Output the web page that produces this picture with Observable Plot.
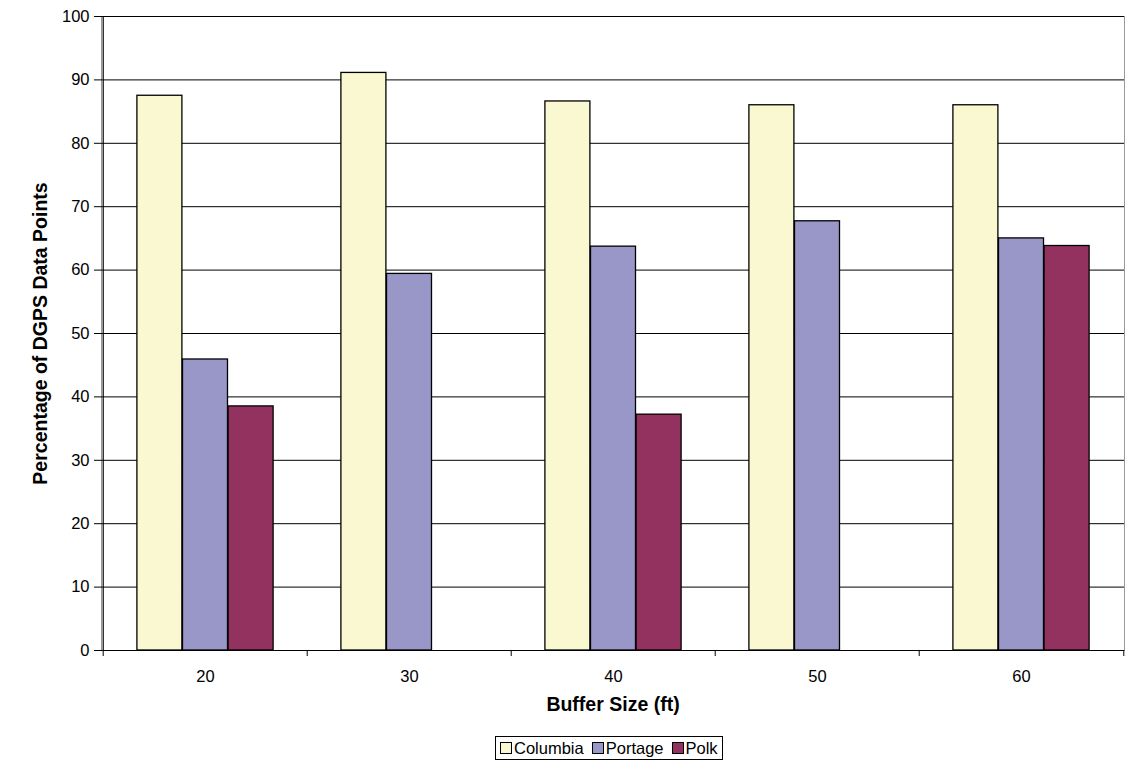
<!DOCTYPE html>
<html>
<head>
<meta charset="utf-8">
<script src="https://cdn.jsdelivr.net/npm/d3@7"></script>
<script src="https://cdn.jsdelivr.net/npm/@observablehq/plot@0.6"></script>
<style>
  body { margin: 0; background: #fff; font-family: "Liberation Sans", Arial, sans-serif; }
  #wrap { width: 1138px; }
  #chart svg { display: block; }
  #legend { margin-left: 495px; width: fit-content; border: 1px solid #000; padding: 1px 4px 1px 4px;
            font-size: 16.5px; display: flex; gap: 8px; align-items: center; background: #fff; line-height: 20px; }
  #legend .item { display: flex; align-items: center; gap: 2px; }
  #legend .sw { width: 10px; height: 10px; border: 1px solid #000; display: inline-block; }
</style>
</head>
<body>
<div id="wrap">
  <div id="chart"></div>
  <div id="legend"></div>
</div>
<script>
const buffers = [20, 30, 40, 50, 60];
const seriesNames = ["Columbia", "Portage", "Polk"];
const columbia = [87.5, 91.1, 86.6, 86.0, 86.0];
const portage  = [45.9, 59.4, 63.7, 67.7, 65.0];
const polk     = [38.5, null, 37.2, null, 63.8];
const colors   = ["#FAF8D0", "#9996C8", "#93325F"];
const yTicks   = [0, 10, 20, 30, 40, 50, 60, 70, 80, 90, 100];

const W = 1138, H = 736, mL = 101, mR = 14, mT = 16, mB = 86;
const bw = (W - mL - mR) / buffers.length;
const barW = 45.6;
const inset = (bw - barW) / 2;

const seriesVals = [columbia, portage, polk];
const barMarks = seriesVals.map((vals, i) =>
  Plot.barY(buffers.map((b, j) => ({buffer: String(b), value: vals[j]})).filter(d => d.value != null), {
    x: "buffer", y: "value", fill: colors[i], stroke: "#000", strokeWidth: 1.3,
    insetLeft: inset, insetRight: inset, dx: (i - 1) * barW
  })
);

const chartSvg = Plot.plot({
  width: W, height: H,
  marginLeft: mL, marginRight: mR, marginTop: mT, marginBottom: mB,
  style: {fontFamily: "'Liberation Sans', Arial, sans-serif", fontSize: "16px", color: "#000", background: "#fff"},
  x: {domain: buffers.map(String), padding: 0, label: null},
  y: {domain: [0, 100], label: null},
  marks: [
    Plot.frame({stroke: "#999"}),
    Plot.ruleY(yTicks.filter(t => t > 0), {stroke: "#000", strokeWidth: 1}),
    ...barMarks,
    Plot.ruleY([0], {stroke: "#000", strokeWidth: 1.2}),
    Plot.ruleX([String(buffers[0])], {x: d => d, dx: -bw / 2, stroke: "#000", strokeWidth: 1.2}),
    Plot.ruleX(buffers.map(String), {x: d => d, dx: -bw / 2, y1: 0, y2: 0, insetBottom: -6, stroke: "#000"}),
    Plot.ruleX([String(buffers[buffers.length - 1])], {x: d => d, dx: bw / 2, y1: 0, y2: 0, insetBottom: -6, stroke: "#000"}),
    Plot.axisY({ticks: yTicks, tickSize: 7, tickPadding: 5, fontSize: 16.5, label: null}),
    Plot.axisX({tickSize: 0, tickPadding: 20, fontSize: 16.5, label: null}),
    Plot.text(["Buffer Size (ft)"], {frameAnchor: "bottom", dy: 60, fontWeight: "bold", fontSize: 19.5, fill: "#000"}),
    Plot.text(["Percentage of DGPS Data Points"], {frameAnchor: "left", textAnchor: "middle", dx: -61, rotate: -90, fontWeight: "bold", fontSize: 19.5, fill: "#000"})
  ]
});
document.getElementById("chart").appendChild(chartSvg);

const legendDiv = document.getElementById("legend");
seriesNames.forEach((name, i) => {
  const item = document.createElement("span");
  item.className = "item";
  const sw = document.createElement("span");
  sw.className = "sw";
  sw.style.background = colors[i];
  item.appendChild(sw);
  item.appendChild(document.createTextNode(name));
  legendDiv.appendChild(item);
});
</script>
</body>
</html>
